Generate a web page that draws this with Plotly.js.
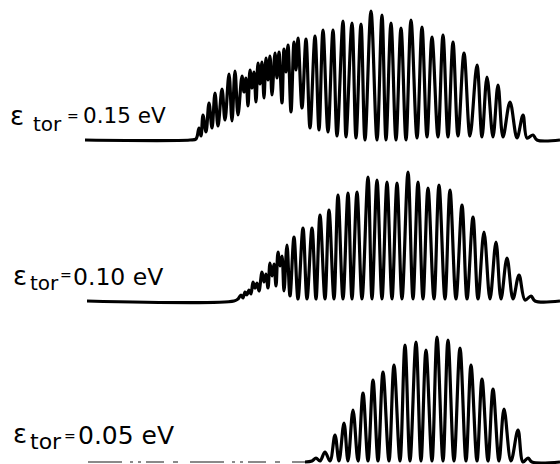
<!DOCTYPE html>
<html>
<head>
<meta charset="utf-8">
<script src="https://cdn.plot.ly/plotly-3.0.1.min.js"></script>
<style>html,body{margin:0;padding:0;background:#fff;}#chart{width:560px;height:464px;}</style>
</head>
<body>
<div id="chart"></div>
<script>
// ---- data (channel = horizontal position, intensity above each baseline) ----
// eps_tor = 0.15 eV
const topX = [85,190,196,199,201,203,206,209,212,215,218,222,225,229,232,235,238,242,244,246,248,250,252,254,256,258,260,262,264,266,268,270,272,275,277,279,282,284,286,288,291,294,296,298,302,306,310,315,319,323,328,333,337,343,346,352,356,361,365,371,377,382,386,391,396,401,406,411,417,422,427,432,438,443,448,453,458,464,470,477,482,487,493,498,503,510,517,523,527,533,537,560];
const topI = [0,0,1,12,4,25,8,37,12,47,14,51,20,66,19,69,25,64,48,62,34,70,52,68,38,77,56,78,42,82,60,84,45,87,62,88,37,91,68,95,28,98,70,102,32,101,12,104,10,110,8,110,4,119,3,117,2,116,0,129,0,125,0,117,0,112,0,120,2,113,3,103,3,105,3,98,4,87,4,75,3,63,3,55,3,38,2,25,2,5,0,0];
// eps_tor = 0.10 eV
const midX = [87,234,238,241,243,245,247,249,251,253,255,257,259,262,264,266,268,270,272,274,276,278,280,282,284,287,290,294,298,303,307,312,316,320,325,329,334,338,343,348,352,357,362,368,372,377,382,387,392,397,402,408,413,418,423,428,434,439,445,450,456,462,467,473,478,484,490,496,501,507,513,519,525,531,535,560];
const midI = [0,0,2,6,3,9,6,11,7,19,13,18,10,29,19,27,13,38,25,37,15,49,35,45,10,56,5,64,2,73,2,73,2,86,2,91,2,106,2,108,2,109,2,124,2,121,2,119,2,118,2,129,2,119,2,113,2,116,2,111,2,96,2,84,2,69,2,59,2,43,2,26,1,5,0,0];
// eps_tor = 0.05 eV
const botX = [305,312,316,320,325,330,335,339,344,348,353,358,363,368,373,378,383,389,394,400,405,410,416,421,426,432,437,443,448,454,460,466,471,477,482,488,493,499,504,511,518,523,528,532,560];
const botI = [0,1,4,1,10,1,27,1,39,1,52,1,69,1,82,1,90,1,97,1,117,1,120,1,112,1,125,1,122,1,114,1,97,1,83,1,73,1,53,1,32,0,4,0,0];
const botBaseX = [88, 305];
const botBaseI = [0, 0];
// labels
const energies = ["0.15 eV", "0.10 eV", "0.05 eV"];
const symbol = "ε";
const subscript = "tor";

// ---- styling / layout ----
const W = 560, H = 464;
const baselines = [140, 301, 462];   // pixel row of each zero line
const lineStyle = {color: '#000', width: 3.2, shape: 'spline', smoothing: 1};

const traces = [
  {x: topX, y: topI, yaxis: 'y', mode: 'lines', line: lineStyle, hoverinfo: 'skip'},
  {x: midX, y: midI, yaxis: 'y2', mode: 'lines', line: lineStyle, hoverinfo: 'skip'},
  {x: botX, y: botI, yaxis: 'y3', mode: 'lines', line: lineStyle, hoverinfo: 'skip'},
  {x: botBaseX, y: botBaseI, yaxis: 'y3', mode: 'lines',
   line: {color: '#8a8a8a', width: 2, dash: '34px,8px,3px,5px,3px,5px,18px,9px,5px,12px'}, hoverinfo: 'skip'}
];

function yr(b) { return [-(H - b), b]; }
const hidden = {visible: false, fixedrange: true, showgrid: false, zeroline: false};

const labelPos = [
  {eps: [9, 116, 26], sub: [32, 124, 20], eq: [66, 116, 14], val: [82, 115.5, 21.5]},
  {eps: [12, 276, 26], sub: [29, 283, 20], eq: [59, 275, 14], val: [72, 276.5, 23.5]},
  {eps: [12, 434, 26], sub: [29, 441, 22], eq: [63, 436, 14], val: [77, 435, 25]}
];
const annotations = [];
function ann(text, p) {
  annotations.push({text: text, xref: 'paper', yref: 'paper', x: p[0] / W, y: 1 - p[1] / H,
    xanchor: 'left', yanchor: 'middle', showarrow: false, borderpad: 0,
    font: {family: 'DejaVu Sans, sans-serif', size: p[2], color: '#000'}});
}
labelPos.forEach((lp, i) => {
  ann(symbol, lp.eps);
  ann(subscript, lp.sub);
  ann('=', lp.eq);
  ann(energies[i], lp.val);
});

const layout = {
  width: W, height: H,
  margin: {l: 0, r: 0, t: 0, b: 0, pad: 0},
  paper_bgcolor: '#fff', plot_bgcolor: '#fff',
  showlegend: false,
  xaxis: Object.assign({range: [0, W]}, hidden),
  yaxis: Object.assign({range: yr(baselines[0])}, hidden),
  yaxis2: Object.assign({range: yr(baselines[1]), overlaying: 'y'}, hidden),
  yaxis3: Object.assign({range: yr(baselines[2]), overlaying: 'y'}, hidden),
  annotations: annotations
};

Plotly.newPlot('chart', traces, layout, {staticPlot: true, displayModeBar: false});
</script>
</body>
</html>
